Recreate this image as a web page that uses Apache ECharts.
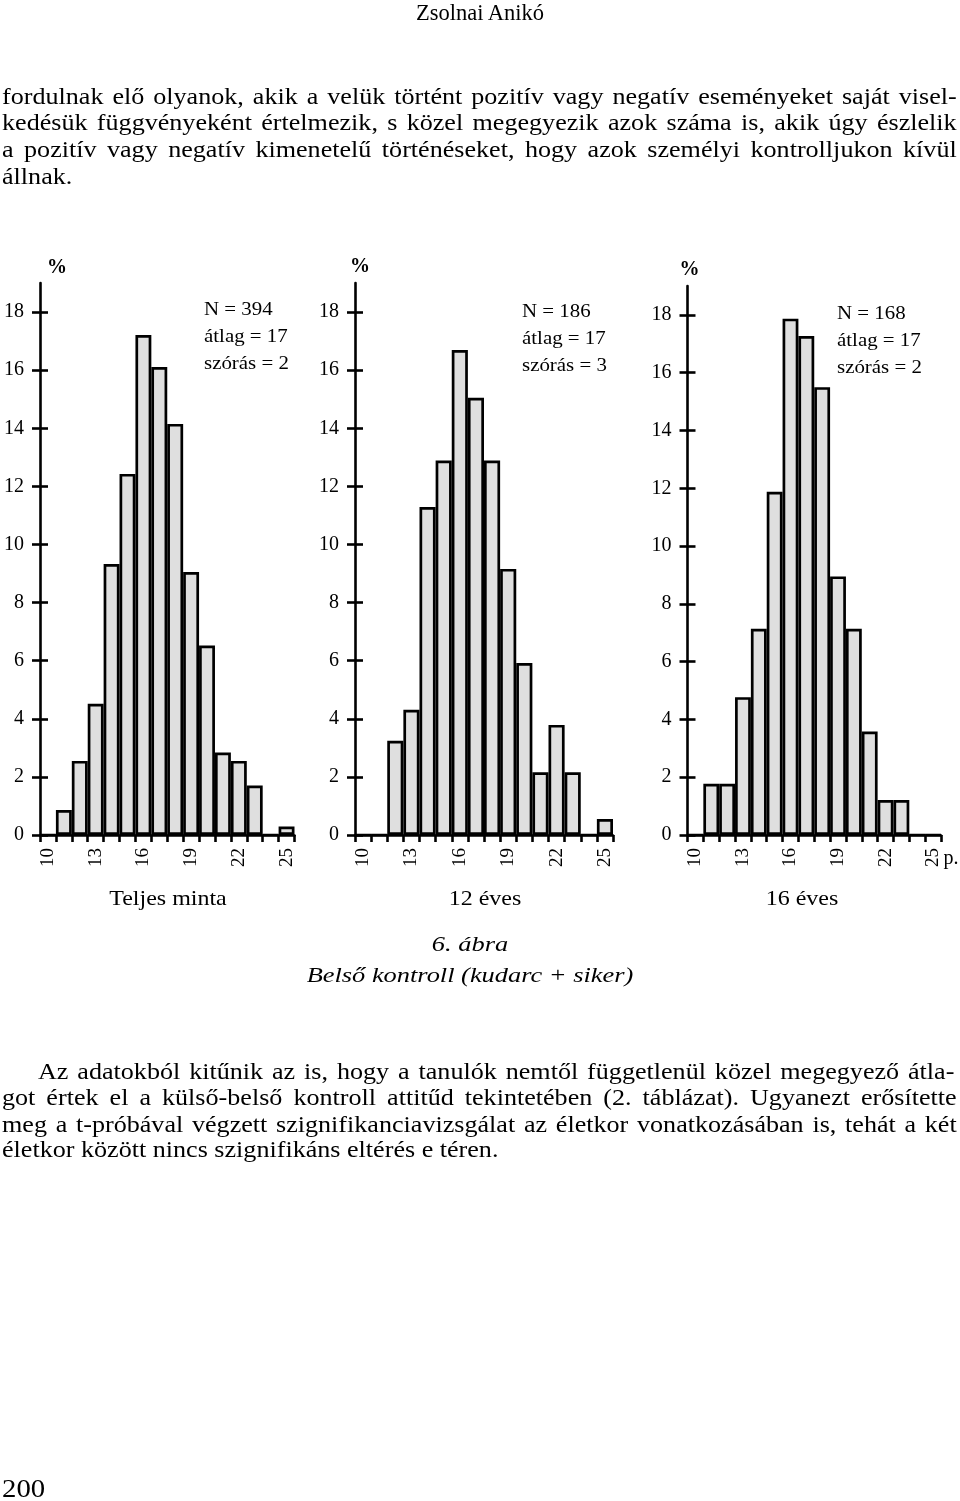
<!DOCTYPE html>
<html><head><meta charset="utf-8">
<script src="https://cdn.jsdelivr.net/npm/echarts@6/dist/echarts.min.js"></script>
<style>
html,body{margin:0;padding:0;background:#fff;}
#page{position:relative;width:960px;height:1501px;font-family:"Liberation Serif","Times New Roman",serif;color:#000;overflow:hidden;}
#chart{position:absolute;left:0;top:0;width:960px;height:1501px;}
.ln{position:absolute;left:2px;width:823px;height:30px;line-height:30px;font-size:22.5px;white-space:nowrap;text-align:justify;text-align-last:justify;transform:scaleX(1.16);transform-origin:0 0;}
.last{text-align:left;text-align-last:left;}
.hd{position:absolute;left:0;width:960px;height:30px;line-height:30px;font-size:22.5px;text-align:center;}
</style></head>
<body><div id="page"><div id="chart"></div>
<div class="hd" style="top:-2px;">Zsolnai Anikó</div>
<div class="ln" style="top:82px">fordulnak elő olyanok, akik a velük történt pozitív vagy negatív eseményeket saját visel-</div>
<div class="ln" style="top:108px">kedésük függvényeként értelmezik, s közel megegyezik azok száma is, akik úgy észlelik</div>
<div class="ln" style="top:135px">a pozitív vagy negatív kimenetelű történéseket, hogy azok személyi kontrolljukon kívül</div>
<div class="ln last" style="top:162px">állnak.</div>
<div class="ln" style="top:1057px;left:38px;width:790px;">Az adatokból kitűnik az is, hogy a tanulók nemtől függetlenül közel megegyező átla-</div>
<div class="ln" style="top:1083px">got értek el a külső-belső kontroll attitűd tekintetében (2. táblázat). Ugyanezt erősítette</div>
<div class="ln" style="top:1110px">meg a t-próbával végzett szignifikanciavizsgálat az életkor vonatkozásában is, tehát a két</div>
<div class="ln last" style="top:1135px">életkor között nincs szignifikáns eltérés e téren.</div>
<div class="ln last" style="top:1474px;left:2px;font-size:25px;transform:scaleX(1.15);">200</div>
</div>
<script>
// ---- data ----
const categories = ['10','11','12','13','14','15','16','17','18','19','20','21','22','23','24','25'];
const teljesMinta = [0, 0.86, 2.55, 4.52, 9.33, 12.43, 17.21, 16.11, 14.15, 9.05, 6.52, 2.84, 2.55, 1.70, 0, 0.29];
const eves12 = [0, 0, 3.24, 4.31, 11.29, 12.89, 16.69, 15.05, 12.89, 9.16, 5.92, 2.16, 3.79, 2.16, 0, 0.55];
const eves16 = [0, 1.77, 1.77, 4.77, 7.14, 11.88, 17.87, 17.27, 15.50, 8.95, 7.14, 3.58, 1.21, 1.21, 0, 0];
const yTicks = [0, 2, 4, 6, 8, 10, 12, 14, 16, 18];
const panelTitles = ['Teljes minta', '12 éves', '16 éves'];
const panelStats = [
  ['N = 394', 'átlag = 17', 'szórás = 2'],
  ['N = 186', 'átlag = 17', 'szórás = 3'],
  ['N = 168', 'átlag = 17', 'szórás = 2']
];
const figNumber = '6. ábra';
const figTitle = 'Belső kontroll (kudarc + siker)';
const yName = '%';
const xUnit = 'p.';

// ---- layout ----
const FONT = '"Liberation Serif","Times New Roman",serif';
const grids = [
  {left: 40, top: 283, width: 254.5, height: 552},
  {left: 355, top: 283, width: 258, height: 552},
  {left: 687.5, top: 286, width: 253.5, height: 549}
];
const pctShift = [17, 5, 2];
const pctGap = [5, 6, 6];
const statsPos = [[204, 310], [522, 312], [837, 314]];
const capX = [168, 485, 802];
const seriesData = [teljesMinta, eves12, eves16];

const axisLineStyle = {color: '#000', width: 2.6};
const xAxes = [], yAxes = [], series = [], graphics = [];
grids.forEach((g, i) => {
  xAxes.push({
    type: 'category', gridIndex: i, data: categories, boundaryGap: true,
    axisLine: {lineStyle: axisLineStyle},
    axisTick: {show: true, interval: 0, length: 7, lineStyle: axisLineStyle},
    axisLabel: {interval: 2, rotate: 90, margin: 13, color: '#000', fontFamily: FONT, fontSize: 19},
    name: i === 2 ? xUnit : '', nameLocation: 'end', nameGap: 2,
    nameTextStyle: {color: '#000', fontFamily: FONT, fontSize: 20, verticalAlign: 'top', padding: [14, 0, 0, 0]}
  });
  yAxes.push({
    type: 'value', gridIndex: i, min: 0, max: 19, position: 'left',
    splitLine: {show: false},
    axisLine: {show: true, lineStyle: axisLineStyle},
    axisTick: {show: true, length: 8, customValues: yTicks, lineStyle: axisLineStyle},
    axisLabel: {customValues: yTicks, margin: 16, color: '#000', fontFamily: FONT, fontSize: 20},
    name: yName, nameLocation: 'end', nameGap: pctGap[i],
    nameTextStyle: {color: '#000', fontFamily: FONT, fontSize: 20, fontWeight: 'bold', padding: [0, 0, 0, pctShift[i] * 2]}
  });
  yAxes.push({
    type: 'value', gridIndex: i, min: 0, max: 19, position: 'left',
    splitLine: {show: false},
    axisLine: {show: false},
    axisTick: {show: true, inside: true, length: 8, customValues: yTicks, lineStyle: axisLineStyle},
    axisLabel: {show: false}
  });
  series.push({
    type: 'bar', xAxisIndex: i, yAxisIndex: i * 2, data: seriesData[i],
    barCategoryGap: '0%', barGap: '0%',
    itemStyle: {color: '#dfdfdf', borderColor: '#000', borderWidth: 2.7},
    silent: true, animation: false
  });
  panelStats[i].forEach((t, k) => {
    graphics.push({type: 'text', x: statsPos[i][0], y: statsPos[i][1] + k * 27, scaleX: 1.1,
      style: {text: t, fill: '#000', font: '19px ' + FONT, textAlign: 'left', textVerticalAlign: 'middle'}});
  });
  graphics.push({type: 'text', x: capX[i], y: 899, scaleX: 1.09,
    style: {text: panelTitles[i], fill: '#000', font: '22px ' + FONT, textAlign: 'center', textVerticalAlign: 'middle'}});
});
graphics.push({type: 'text', x: 470, y: 945, scaleX: 1.2,
  style: {text: figNumber, fill: '#000', font: 'italic 22px ' + FONT, textAlign: 'center', textVerticalAlign: 'middle'}});
graphics.push({type: 'text', x: 470, y: 976, scaleX: 1.2,
  style: {text: figTitle, fill: '#000', font: 'italic 22px ' + FONT, textAlign: 'center', textVerticalAlign: 'middle'}});

const chart = echarts.init(document.getElementById('chart'), null, {renderer: 'canvas'});
chart.setOption({
  animation: false,
  backgroundColor: 'transparent',
  grid: grids,
  xAxis: xAxes,
  yAxis: yAxes,
  series: series,
  graphic: graphics
});
</script>
</body></html>
